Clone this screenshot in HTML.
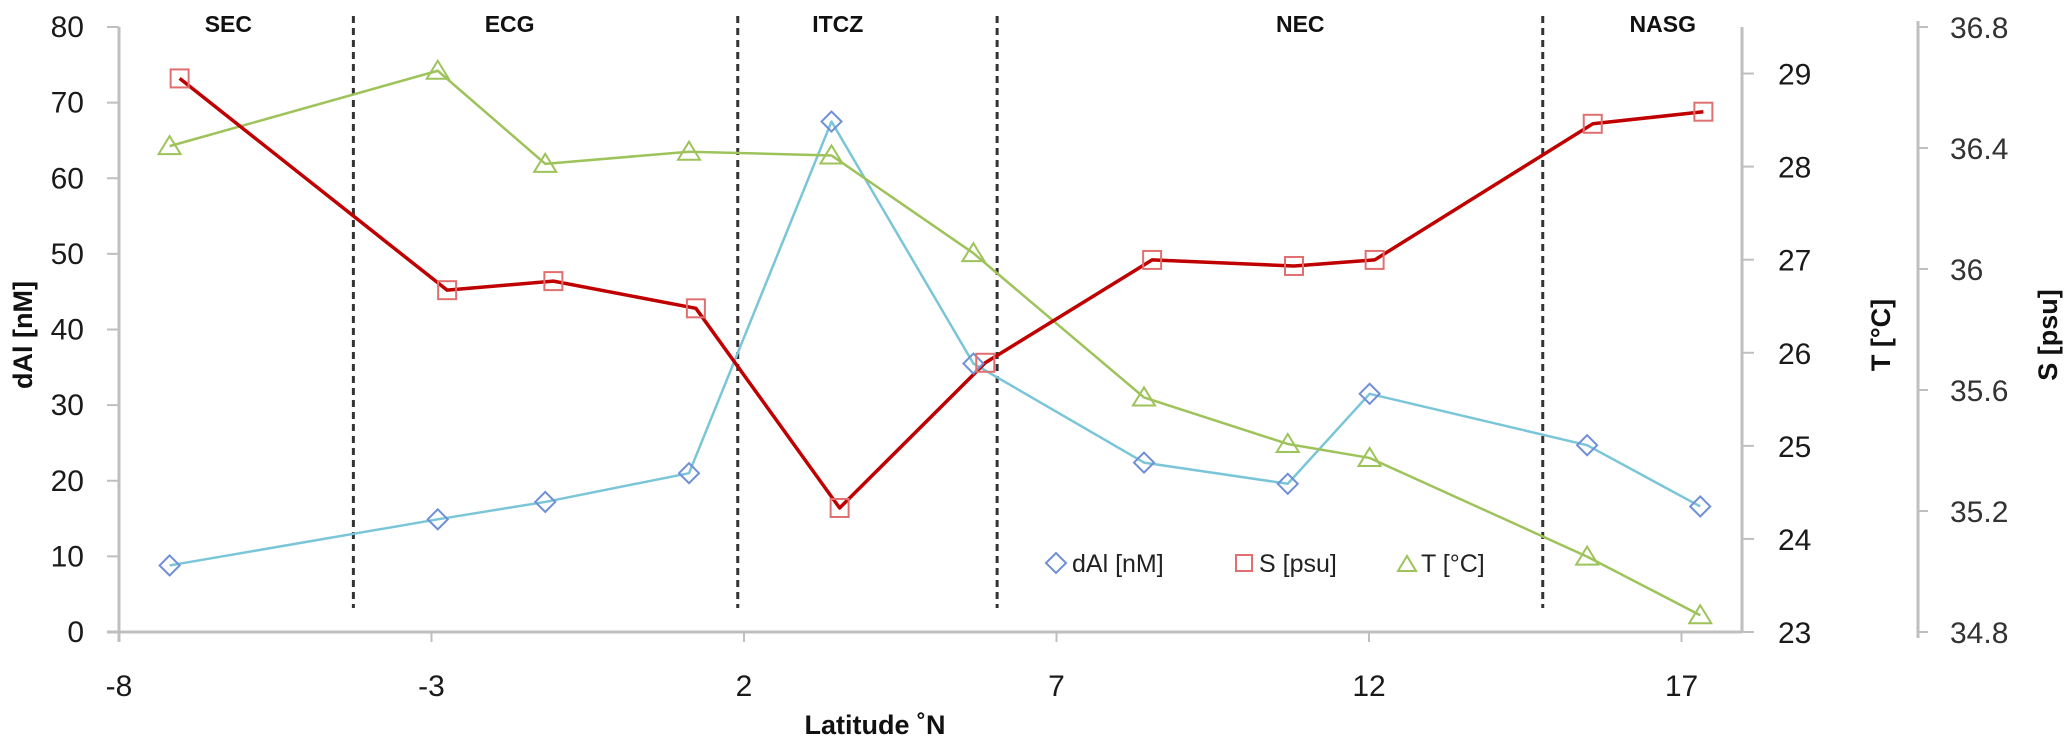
<!DOCTYPE html>
<html><head><meta charset="utf-8">
<style>
html,body{margin:0;padding:0;background:#fff;}
svg{display:block;font-family:"Liberation Sans",sans-serif;}
</style></head>
<body>
<svg id="chart" width="2067" height="742" viewBox="0 0 2067 742" xmlns="http://www.w3.org/2000/svg">
<g id="axes"></g>
<g id="regions"></g>
<g id="series"></g>
<g id="legend">
  <path d="M1046 563 L1056 553 L1066 563 L1056 573 Z" fill="none" stroke="#6f8fd6" stroke-width="2"/>
  <text x="1072" y="572" font-size="25" fill="#222">dAl [nM]</text>
  <rect x="1236" y="555" width="16" height="16" fill="none" stroke="#e07070" stroke-width="2"/>
  <text x="1259" y="572" font-size="25" fill="#222">S [psu]</text>
  <path d="M1398 571 L1407 556 L1416 571 Z" fill="none" stroke="#9dc35a" stroke-width="2"/>
  <text x="1421" y="572" font-size="25" fill="#222">T [°C]</text>
</g>
</svg>
<script>
const lat = [-7.19, -2.9, -1.18, 1.12, 3.4, 5.67, 8.4, 10.7, 12.01, 15.49, 17.3];
const latS = [-7.03, -2.75, -1.05, 1.23, 3.53, 5.86, 8.53, 10.8, 12.09, 15.58, 17.35];
const dAl = [8.8, 14.9, 17.2, 21.0, 67.5, 35.5, 22.4, 19.6, 31.5, 24.7, 16.6];
const salinity = [36.63, 35.93, 35.96, 35.87, 35.21, 35.69, 36.03, 36.01, 36.03, 36.48, 36.52];
const temp = [28.22, 29.03, 28.03, 28.16, 28.12, 27.07, 25.52, 25.02, 24.87, 23.81, 23.18];
const xTicks = [-8, -3, 2, 7, 12, 17];
const yTicks = [0, 10, 20, 30, 40, 50, 60, 70, 80];
const tTicks = [23, 24, 25, 26, 27, 28, 29];
const sTicks = ["34.8", "35.2", "35.6", "36", "36.4", "36.8"];
const boundaries = [-4.25, 1.9, 6.05, 14.78];
const regionNames = ["SEC", "ECG", "ITCZ", "NEC", "NASG"];
const regionCenters = [-6.25, -1.75, 3.5, 10.9, 16.7];

const NS = "http://www.w3.org/2000/svg";
const TOP = 27, BOT = 632;
function X(v){ return 119 + (v + 8) * 62.5; }
function Y(v){ return BOT - v / 80 * (BOT - TOP); }
function YT(v){ return BOT - (v - 23) / 6.5 * (BOT - TOP); }
function YS(v){ return BOT - (v - 34.8) / 2.0 * (BOT - TOP); }
function mk(tag, attrs, parent){
  const e = document.createElementNS(NS, tag);
  for (const k in attrs) e.setAttribute(k, attrs[k]);
  parent.appendChild(e); return e;
}
const axes = document.getElementById('axes');
const regions = document.getElementById('regions');
const series = document.getElementById('series');

// left axis
let el = mk('line', {x1:119, y1:TOP, x2:119, y2:BOT+10, stroke:'#bfbfbf', 'stroke-width':3}, axes);


yTicks.forEach(v => {
  const t = mk('line', {x1:107, y1:Y(v), x2:119, y2:Y(v), stroke:'#bfbfbf', 'stroke-width':2}, axes);
  
  
  const l = mk('text', {x:84, y:Y(v)+10, 'text-anchor':'end', 'font-size':30, fill:'#1a1a1a'}, axes);
  l.textContent = v;
  
  
});
el = mk('text', {x:0, y:0, transform:'translate(32,335) rotate(-90)', 'text-anchor':'middle', 'font-size':27, 'font-weight':'bold', fill:'#111'}, axes);
el.textContent = 'dAl [nM]';



// x axis
el = mk('line', {x1:107, y1:BOT, x2:1742, y2:BOT, stroke:'#bfbfbf', 'stroke-width':3}, axes);


xTicks.forEach(v => {
  const t = mk('line', {x1:X(v), y1:BOT, x2:X(v), y2:BOT+10, stroke:'#bfbfbf', 'stroke-width':2}, axes);
  
  
  const l = mk('text', {x:X(v), y:696, 'text-anchor':'middle', 'font-size':30, fill:'#1a1a1a'}, axes);
  l.textContent = v;
  
  
});
el = mk('text', {x:875, y:734, 'text-anchor':'middle', 'font-size':27, 'font-weight':'bold', fill:'#111'}, axes);
el.textContent = 'Latitude ˚N';



// T axis
el = mk('line', {x1:1742, y1:TOP, x2:1742, y2:BOT, stroke:'#bfbfbf', 'stroke-width':3}, axes);


tTicks.forEach(v => {
  const t = mk('line', {x1:1742, y1:YT(v), x2:1754, y2:YT(v), stroke:'#bfbfbf', 'stroke-width':2}, axes);
  
  
  const l = mk('text', {x:1778, y:YT(v)+11, 'font-size':30, fill:'#1a1a1a'}, axes);
  l.textContent = v;
  
  
});
el = mk('text', {x:0, y:0, transform:'translate(1890,335) rotate(-90)', 'text-anchor':'middle', 'font-size':27, 'font-weight':'bold', fill:'#111'}, axes);
el.textContent = 'T [°C]';



// S axis
el = mk('line', {x1:1918, y1:YS(34.8)+6, x2:1918, y2:YS(36.8)-6, stroke:'#bfbfbf', 'stroke-width':3}, axes);


sTicks.forEach(s => {
  const v = parseFloat(s);
  const t = mk('line', {x1:1918, y1:YS(v), x2:1928, y2:YS(v), stroke:'#bfbfbf', 'stroke-width':2}, axes);
  
  
  const l = mk('text', {x:1950, y:YS(v)+11, 'font-size':30, fill:'#333'}, axes);
  l.textContent = s;
  
  
});
el = mk('text', {x:0, y:0, transform:'translate(2057,335) rotate(-90)', 'text-anchor':'middle', 'font-size':27, 'font-weight':'bold', fill:'#111'}, axes);
el.textContent = 'S [psu]';



// region boundaries and labels
boundaries.forEach(b => {
  const d = mk('line', {x1:X(b), y1:16, x2:X(b), y2:608, stroke:'#333', 'stroke-width':3, 'stroke-dasharray':'7,5'}, regions);
  
  
});
regionNames.forEach((n, i) => {
  const t = mk('text', {x:X(regionCenters[i]), y:32, 'text-anchor':'middle', 'font-size':23, 'font-weight':'bold', fill:'#111'}, regions);
  t.textContent = n;
  
  
});

// series
function line(xs, ys, fy, color, w, name){
  const pts = xs.map((x, i) => X(x) + ',' + fy(ys[i])).join(' ');
  const p = mk('polyline', {points:pts, fill:'none', stroke:color, 'stroke-width':w, 'stroke-linejoin':'round'}, series);
  
  
}
line(lat, dAl, Y, '#7ac6d8', 2.5, 'dal-line');
line(lat, temp, YT, '#9dc35a', 2.5, 'temperature-line');
line(latS, salinity, YS, '#c00000', 3.5, 'salinity-line');

lat.forEach((x, i) => {
  const cx = X(x), cy = Y(dAl[i]);
  const m = mk('path', {d:`M${cx-10} ${cy} L${cx} ${cy-10} L${cx+10} ${cy} L${cx} ${cy+10} Z`, fill:'none', stroke:'#6f8fd6', 'stroke-width':2}, series);
  
  
});
lat.forEach((x, i) => {
  const cx = X(x), cy = YT(temp[i]);
  const m = mk('path', {d:`M${cx-11} ${cy+8} L${cx} ${cy-10} L${cx+11} ${cy+8} Z`, fill:'none', stroke:'#9dc35a', 'stroke-width':2}, series);
  
  
});
latS.forEach((x, i) => {
  const cx = X(x), cy = YS(salinity[i]);
  const m = mk('rect', {x:cx-9, y:cy-9, width:18, height:18, fill:'none', stroke:'#e07070', 'stroke-width':2}, series);
  
  
});
</script>
</body></html>
